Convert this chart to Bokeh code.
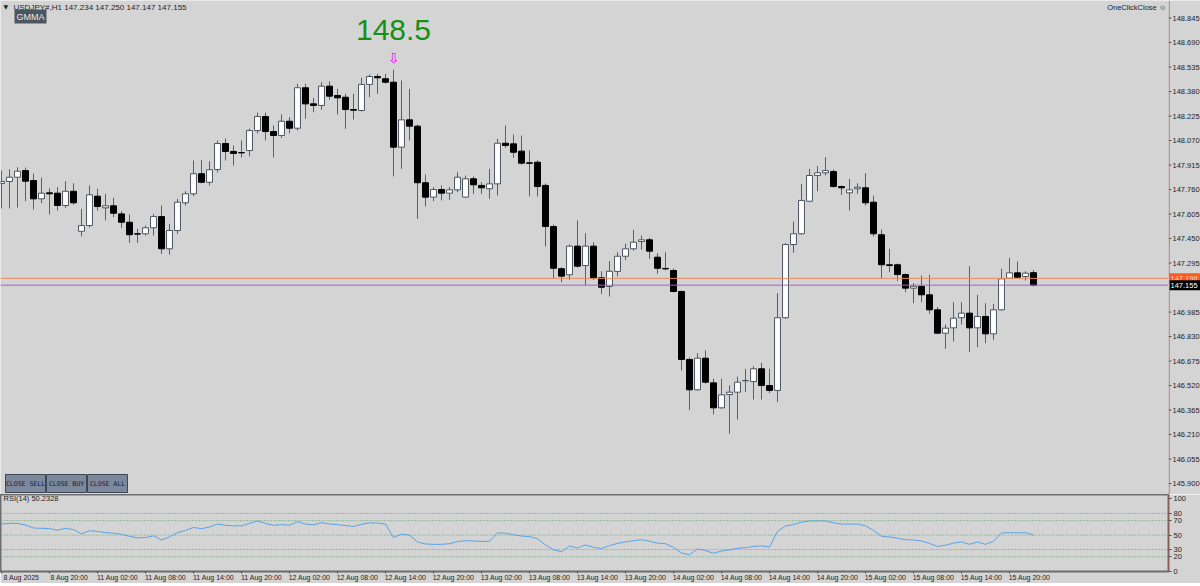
from bokeh.plotting import figure
from bokeh.layouts import column, row
from bokeh.models import Range1d, FixedTicker, Span, Label, BoxAnnotation, ColumnDataSource
from bokeh.core.properties import value
from bokeh.embed import file_html
from bokeh.resources import INLINE

# ---------------- data (USDJPY#, H1) ----------------
opens = [147.798, 147.811, 147.838, 147.880, 147.817, 147.701, 147.739, 147.737, 147.659, 147.749,
         147.496, 147.532, 147.718, 147.644, 147.657, 147.606, 147.553, 147.480, 147.480, 147.518,
         147.589, 147.385, 147.501, 147.676, 147.733, 147.860, 147.806, 147.887, 148.051, 148.001,
         147.994, 148.007, 148.133, 148.222, 148.127, 148.102, 148.192, 148.148, 148.404, 148.302,
         148.292, 148.414, 148.355, 148.344, 148.266, 148.260, 148.425, 148.475, 148.461, 148.439,
         148.028, 148.201, 148.161, 147.803, 147.712, 147.760, 147.737, 147.758, 147.712, 147.828,
         147.786, 147.765, 147.796, 148.053, 148.049, 148.003, 147.929, 147.933, 147.786, 147.526,
         147.259, 147.221, 147.402, 147.279, 147.402, 147.202, 147.147, 147.242, 147.338, 147.385,
         147.431, 147.442, 147.332, 147.261, 147.248, 147.115, 146.685, 146.493, 146.693, 146.537,
         146.379, 146.463, 146.478, 146.550, 146.545, 146.626, 146.520, 146.489, 146.949, 147.412,
         147.480, 147.686, 147.849, 147.866, 147.874, 147.779, 147.739, 147.765, 147.771, 147.680,
         147.474, 147.284, 147.284, 147.222, 147.136, 147.147, 147.094, 146.999, 146.851, 146.885,
         146.949, 146.978, 146.885, 146.957, 146.847, 146.999, 147.199, 147.233, 147.210, 147.234]
highs = [147.880, 147.887, 147.901, 147.899, 147.861, 147.836, 147.767, 147.775, 147.813, 147.800,
         147.638, 147.786, 147.765, 147.733, 147.708, 147.623, 147.602, 147.512, 147.532, 147.606,
         147.659, 147.543, 147.701, 147.749, 147.944, 147.948, 147.939, 148.070, 148.083, 148.039,
         148.070, 148.146, 148.247, 148.247, 148.165, 148.235, 148.218, 148.429, 148.429, 148.340,
         148.439, 148.445, 148.397, 148.366, 148.366, 148.467, 148.488, 148.492, 148.492, 148.518,
         148.450, 148.397, 148.171, 147.855, 147.775, 147.786, 147.775, 147.870, 147.849, 147.843,
         147.806, 147.891, 148.081, 148.165, 148.108, 148.102, 148.007, 147.944, 147.798, 147.539,
         147.269, 147.412, 147.564, 147.484, 147.427, 147.243, 147.307, 147.364, 147.417, 147.505,
         147.469, 147.455, 147.357, 147.364, 147.260, 147.120, 146.697, 146.725, 146.742, 146.563,
         146.563, 146.520, 146.577, 146.626, 146.642, 146.664, 146.626, 147.104, 147.421, 147.558,
         147.796, 147.891, 147.908, 147.965, 147.887, 147.786, 147.828, 147.800, 147.863, 147.722,
         147.507, 147.385, 147.292, 147.229, 147.167, 147.216, 147.221, 147.016, 146.906, 147.047,
         147.047, 147.275, 147.094, 147.041, 147.037, 147.259, 147.328, 147.305, 147.243, 147.250]
lows = [147.640, 147.640, 147.646, 147.686, 147.634, 147.674, 147.602, 147.627, 147.644, 147.665,
        147.463, 147.520, 147.627, 147.564, 147.585, 147.518, 147.423, 147.423, 147.469, 147.469,
        147.353, 147.349, 147.480, 147.659, 147.718, 147.800, 147.786, 147.868, 147.944, 147.912,
        147.963, 147.969, 148.115, 148.070, 147.963, 148.087, 148.116, 148.133, 148.208, 148.249,
        148.265, 148.328, 148.235, 148.144, 148.203, 148.254, 148.344, 148.366, 148.431, 147.843,
        147.891, 148.070, 147.575, 147.653, 147.686, 147.691, 147.695, 147.743, 147.708, 147.733,
        147.733, 147.701, 147.722, 148.024, 147.961, 147.918, 147.716, 147.716, 147.400, 147.195,
        147.174, 147.189, 147.267, 147.153, 147.189, 147.100, 147.083, 147.210, 147.315, 147.374,
        147.379, 147.322, 147.227, 147.248, 147.109, 146.615, 146.366, 146.489, 146.533, 146.337,
        146.373, 146.215, 146.305, 146.478, 146.432, 146.432, 146.472, 146.415, 146.942, 147.360,
        147.474, 147.680, 147.749, 147.849, 147.771, 147.727, 147.627, 147.733, 147.659, 147.463,
        147.199, 147.237, 147.180, 147.111, 147.041, 147.047, 146.974, 146.847, 146.752, 146.799,
        146.906, 146.731, 146.763, 146.788, 146.809, 146.995, 147.195, 147.199, 147.185, 147.147]
closes = [147.811, 147.838, 147.876, 147.813, 147.701, 147.737, 147.733, 147.659, 147.749, 147.676,
          147.532, 147.727, 147.653, 147.657, 147.610, 147.553, 147.474, 147.478, 147.518, 147.589,
          147.385, 147.501, 147.680, 147.733, 147.860, 147.806, 147.885, 148.051, 148.001, 147.988,
          147.992, 148.133, 148.222, 148.127, 148.102, 148.192, 148.148, 148.404, 148.302, 148.292,
          148.414, 148.351, 148.340, 148.266, 148.262, 148.425, 148.475, 148.467, 148.439, 148.028,
          148.201, 148.161, 147.803, 147.712, 147.760, 147.737, 147.758, 147.838, 147.828, 147.790,
          147.771, 147.796, 148.053, 148.039, 147.996, 147.927, 147.926, 147.779, 147.526, 147.262,
          147.212, 147.402, 147.275, 147.402, 147.199, 147.142, 147.243, 147.338, 147.385, 147.427,
          147.442, 147.370, 147.262, 147.258, 147.115, 146.685, 146.493, 146.693, 146.541, 146.379,
          146.461, 146.478, 146.541, 146.552, 146.626, 146.520, 146.489, 146.949, 147.412, 147.480,
          147.691, 147.849, 147.866, 147.880, 147.779, 147.771, 147.758, 147.775, 147.676, 147.480,
          147.284, 147.279, 147.222, 147.136, 147.148, 147.094, 146.999, 146.851, 146.883, 146.946,
          146.978, 146.885, 146.957, 146.847, 146.999, 147.195, 147.233, 147.205, 147.231, 147.155]
rsi = [65.3, 66.2, 66.2, 64.0, 59.8, 59.4, 58.9, 56.8, 59.4, 57.7,
       51.7, 56.0, 55.1, 53.4, 52.6, 50.9, 48.3, 46.2, 46.6, 49.1,
       43.2, 47.4, 53.4, 56.4, 60.6, 58.9, 61.1, 65.3, 63.6, 62.8,
       62.8, 66.2, 69.6, 66.2, 63.6, 64.5, 63.6, 68.7, 65.3, 64.0,
       67.4, 65.3, 64.5, 63.2, 61.9, 64.9, 67.0, 66.6, 65.3, 46.6,
       51.3, 50.0, 40.6, 37.7, 37.2, 37.2, 38.1, 41.1, 42.3, 41.9,
       41.1, 41.5, 53.0, 52.6, 50.4, 48.7, 47.9, 44.9, 36.4, 29.6,
       27.0, 34.7, 32.1, 36.4, 33.0, 31.3, 35.5, 38.5, 40.6, 42.3,
       43.6, 41.5, 38.9, 38.1, 33.0, 25.3, 22.8, 30.9, 28.7, 24.9,
       27.9, 29.6, 31.7, 32.6, 34.3, 35.1, 33.4, 55.1, 62.8, 64.5,
       67.9, 69.6, 69.6, 69.6, 67.0, 65.3, 65.3, 65.3, 62.8, 56.4,
       48.3, 47.4, 45.7, 43.6, 43.2, 41.9, 38.5, 34.3, 36.0, 38.9,
       40.6, 37.2, 40.6, 37.2, 41.5, 53.0, 53.4, 53.0, 53.4, 50.2328]

time_tick_bars = [0, 6, 12, 18, 24, 30, 36, 42, 48, 54, 60, 66, 72, 78, 84, 90, 96, 102, 108, 114, 120, 126]
time_tick_labels = ["8 Aug 2025", "8 Aug 20:00", "11 Aug 02:00", "11 Aug 08:00", "11 Aug 14:00",
                    "11 Aug 20:00", "12 Aug 02:00", "12 Aug 08:00", "12 Aug 14:00", "12 Aug 20:00",
                    "13 Aug 02:00", "13 Aug 08:00", "13 Aug 14:00", "13 Aug 20:00", "14 Aug 02:00",
                    "14 Aug 08:00", "14 Aug 14:00", "14 Aug 20:00", "15 Aug 02:00", "15 Aug 08:00",
                    "15 Aug 14:00", "15 Aug 20:00"]
price_ticks = [148.845, 148.690, 148.535, 148.380, 148.225, 148.070, 147.915, 147.760, 147.605,
               147.450, 147.295, 146.985, 146.830, 146.675, 146.520, 146.365, 146.210, 146.055, 145.900]
rsi_ticks = [0, 20, 30, 50, 70, 80, 100]
rsi_levels = [80, 70, 50, 30, 20]
symbol = "USDJPY#,H1"
bid = 147.155
ask = 147.198
peak_bar = 49
peak_text = "148.5"
buttons = ["CLOSE SELL", "CLOSE BUY", "CLOSE ALL"]

# ---------------- layout helpers ----------------
BG = "#d4d4d4"
FW = 1168            # frame width px (8 px per bar)
SCALE_W = 32         # width of the price scale strip
MAIN_H = 494
RSI_H = 77
X0 = -0.125
X1 = X0 + FW / 8.0
Y_TOP = 148.956
Y_BOT = Y_TOP - MAIN_H / 158.06


def px2x(px):
    return X0 + px / 8.0


def px2y(py):
    return Y_TOP - py * (Y_TOP - Y_BOT) / MAIN_H


FONT = "Liberation Sans"
TXT = "#1e1e1e"
AXIS_COL = "#8a5e54"

# ---------------- main price panel ----------------
p = figure(frame_width=FW, frame_height=MAIN_H, x_range=Range1d(X0, X1), y_range=Range1d(Y_BOT, Y_TOP),
           x_axis_location=None, y_axis_location=None, output_backend="svg", toolbar_location=None,
           background_fill_color=BG, border_fill_color=BG, min_border_left=0, min_border_top=0,
           min_border_bottom=0, min_border_right=0, outline_line_color=None)
p.grid.visible = False

idx = list(range(len(opens)))
up = [c >= o for o, c in zip(opens, closes)]
MIN_B = 0.0012
btop, bbot = [], []
for o, c in zip(opens, closes):
    t, b = max(o, c), min(o, c)
    if t - b < MIN_B:
        m = (t + b) / 2
        t, b = m + MIN_B / 2, m - MIN_B / 2
    btop.append(t)
    bbot.append(b)
src = ColumnDataSource(dict(x=idx, o=opens, h=highs, l=lows, c=closes, top=btop, bot=bbot,
                            fill=["#ffffff" if u else "#000000" for u in up],
                            edge=["#4a5562" if u else "#000000" for u in up]))

p.segment(x0="x", y0="h", x1="x", y1="l", source=src, line_color="#56616d", line_width=1)
p.vbar(x="x", top="top", bottom="bot", width=0.74, source=src, fill_color="fill", line_color="edge",
       line_width=1)

p.add_layout(Span(location=ask, dimension="width", line_color="#e98a5c", line_width=1))
p.add_layout(Span(location=bid, dimension="width", line_color="#a45fd2", line_width=1))

# header texts
p.add_layout(Label(x=px2x(3), y=px2y(6), text="\u25bc", text_align="left", text_baseline="middle",
                   text_font="DejaVu Sans", text_font_size="6px", text_color="#202020"))
p.add_layout(Label(x=px2x(13), y=px2y(7),
                   text=f"{symbol} {opens[-1]:.3f} {highs[-1]:.3f} {lows[-1]:.3f} {closes[-1]:.3f}",
                   text_align="left", text_baseline="middle", text_font=FONT, text_font_size="8px",
                   text_color=TXT))
p.add_layout(Label(x=px2x(14), y=px2y(16), text="GMMA", text_align="left", text_baseline="middle",
                   text_font=FONT, text_font_size="9px", text_color="#e8e8e8",
                   background_fill_color="#4b5663", padding=2))
p.add_layout(Label(x=px2x(1166), y=px2y(7), text="OneClickClose \u263a", text_align="right",
                   text_baseline="middle", text_font=FONT, text_font_size="7.5px", text_color=TXT))

# peak marker
p.add_layout(Label(x=peak_bar, y=px2y(29), text=peak_text, text_align="center", text_baseline="middle",
                   text_font=FONT, text_font_size="30px", text_color="#178f17"))
p.add_layout(Label(x=peak_bar, y=px2y(57), text="\u21e9", text_align="center", text_baseline="middle",
                   text_font="DejaVu Sans", text_font_size="14px", text_color="#ff00ff"))

# buttons
for k, name in enumerate(buttons):
    l_px = 5 + 41 * k
    p.add_layout(BoxAnnotation(left=px2x(l_px), right=px2x(l_px + 40), top=px2y(474), bottom=px2y(492),
                               fill_color="#7c899c", fill_alpha=1.0, line_color="#3d4756", line_width=1,
                               line_alpha=1.0))
    p.add_layout(Label(x=px2x(l_px + 20), y=px2y(483), text=name, text_align="center",
                       text_baseline="middle", text_font="DejaVu Sans Mono", text_font_size="6.5px",
                       text_color="#16202c"))

# ---------------- price scale strip (right of main panel) ----------------
s = figure(frame_width=SCALE_W, frame_height=MAIN_H, x_range=Range1d(0, SCALE_W), y_range=p.y_range,
           x_axis_location=None, y_axis_location=None, output_backend="svg", toolbar_location=None,
           background_fill_color=BG, border_fill_color=BG, min_border_left=0, min_border_top=0,
           min_border_bottom=0, min_border_right=0, outline_line_color=None)
s.grid.visible = False
s.add_layout(Span(location=0.5, dimension="height", line_color=AXIS_COL, line_width=1))
s.segment(x0=[0] * len(price_ticks), y0=price_ticks, x1=[3] * len(price_ticks), y1=price_ticks,
          line_color="#505050", line_width=1)
s.text(x=[4] * len(price_ticks), y=price_ticks, text=[f"{t:.3f}" for t in price_ticks],
       text_font=value(FONT), text_font_size="7.5px", text_color=TXT, text_baseline="middle",
       text_align="left")
tags = [(ask, "#ff5a1e", "#ffd8c8"), (bid, "#000000", "#ffffff")]
for lvl, bgc, fgc in tags:
    s.rect(x=[16.5], y=[lvl], width=[31], height=[10], height_units="screen", fill_color=bgc,
           line_color=None)
    s.text(x=[2], y=[lvl], text=[f"{lvl:.3f}"], text_font=value(FONT), text_font_size="7.5px",
           text_color=fgc, text_baseline="middle", text_align="left")

# ---------------- RSI panel ----------------
p2 = figure(frame_width=FW, frame_height=RSI_H, x_range=p.x_range, y_range=Range1d(-0.4, 106.2),
            y_axis_location="right", output_backend="svg", toolbar_location=None,
            background_fill_color=BG, border_fill_color=BG, min_border_left=0, min_border_top=0,
            min_border_bottom=0, min_border_right=SCALE_W, outline_line_color="#6e6e6e",
            outline_line_width=2)
p2.grid.visible = False

for lv in rsi_levels:
    p2.add_layout(Span(location=lv, dimension="width", line_color="#4fa56c", line_width=1, line_dash="1 2"))

p2.line(idx, rsi, line_color="#5aa2e8", line_width=1)

p2.add_layout(Label(x=px2x(3), y=100, text=f"RSI(14) {rsi[-1]:.4f}", text_align="left", text_baseline="middle",
                    text_font=FONT, text_font_size="7.5px", text_color=TXT))

ry = p2.yaxis[0]
ry.ticker = FixedTicker(ticks=rsi_ticks)
ry.major_label_text_font = FONT
ry.major_label_text_font_size = "7.5px"
ry.major_label_text_color = TXT
ry.major_label_standoff = 2
ry.major_tick_in = 0
ry.major_tick_out = 3
ry.major_tick_line_color = "#505050"
ry.axis_line_color = AXIS_COL

xa = p2.xaxis[0]
shifted = [b + 2.5 for b in time_tick_bars]
xa.ticker = FixedTicker(ticks=shifted, minor_ticks=time_tick_bars)
xa.major_label_overrides = {s_: lab for s_, lab in zip(shifted, time_tick_labels)}
xa.major_label_text_font = FONT
xa.major_label_text_font_size = "7px"
xa.major_label_text_color = TXT
xa.major_label_standoff = 0
xa.major_tick_line_color = None
xa.major_tick_out = 0
xa.major_tick_in = 0
xa.minor_tick_in = 0
xa.minor_tick_out = 2
xa.minor_tick_line_color = "#505050"
xa.axis_line_color = AXIS_COL

layout = column(row(p, s, spacing=0), p2, spacing=0)
open("out.html", "w").write(file_html(layout, INLINE))
